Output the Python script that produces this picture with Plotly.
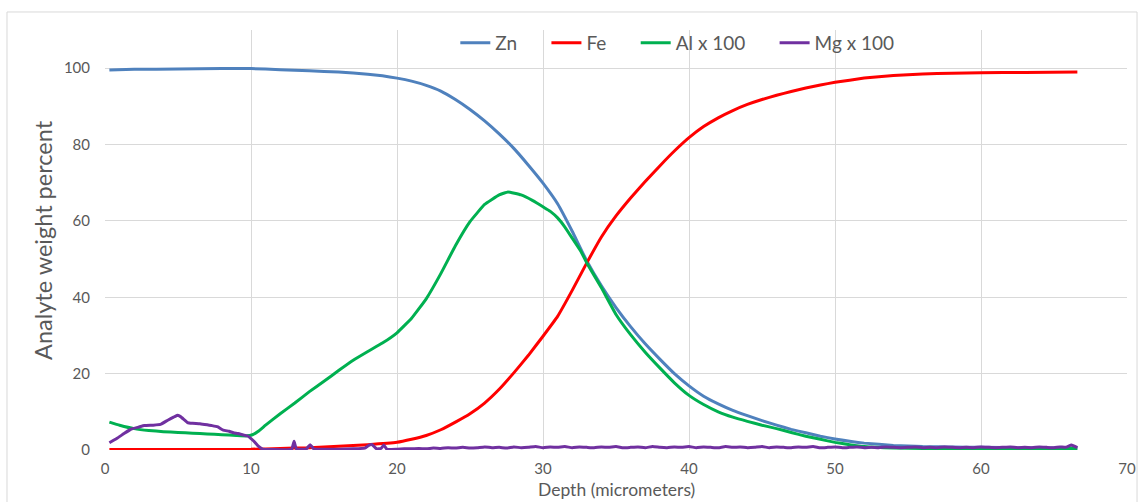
import plotly.graph_objects as go

# ---- data ----
zn_x = [0.3, 2, 5, 8, 10, 12, 14, 16, 18, 19, 20, 21, 22, 23, 24, 25, 26, 27, 28, 29, 30,
        31, 32, 33, 34, 35, 36, 37, 38, 39, 40, 41, 42, 43, 44, 45, 46, 47, 48, 49, 50,
        52, 54, 56, 58, 60, 63, 66.6]
zn_y = [99.5, 99.7, 99.8, 99.9, 99.9, 99.6, 99.3, 99.0, 98.4, 98.0, 97.4, 96.6, 95.5, 94.0, 91.8,
        89.2, 86.2, 82.8, 79.0, 74.6, 69.9, 64.5, 57.3, 49.5, 43.0, 37.3, 32.3, 27.8, 23.8, 20.0,
        16.8, 14.1, 12.1, 10.4, 9.0, 7.7, 6.5, 5.4, 4.5, 3.6, 2.9, 1.8, 1.2, 0.9, 0.8, 0.7, 0.6, 0.5]

fe_x = [0.3, 10, 12, 14, 16, 18, 20, 21, 22, 23, 24, 25, 26, 27, 28, 29, 30, 31, 32, 33, 34,
        35, 36, 37, 38, 39, 40, 41, 42, 43, 44, 45, 46, 47, 48, 49, 50, 52, 54, 56, 58, 60,
        63, 66.6]
fe_y = [0.1, 0.2, 0.4, 0.6, 1.0, 1.4, 2.0, 2.8, 3.8, 5.3, 7.3, 9.5, 12.3, 15.9, 20.2, 24.8, 29.8,
        35.0, 41.8, 49.0, 55.8, 61.3, 66.0, 70.3, 74.4, 78.3, 81.8, 84.7, 87.0, 88.9, 90.5, 91.8,
        92.9, 93.9, 94.8, 95.6, 96.3, 97.4, 98.1, 98.5, 98.7, 98.8, 98.9, 99.0]

al_x = [0.3, 1, 2, 3, 4, 5, 6, 7, 8, 9, 9.7, 10.1, 10.5, 11, 12, 13, 14, 15, 16, 17, 18, 19, 20,
        21, 22, 23, 24, 25, 26, 27, 27.6, 28.5, 29.3, 30, 30.5, 31, 31.5, 32, 32.6, 33, 34, 35, 36,
        37, 38, 39, 40, 41, 42, 43, 44, 45, 46, 47, 48, 49, 50, 51, 52, 54, 56, 60, 63, 66.6]
al_y = [7.3, 6.5, 5.6, 5.1, 4.8, 4.6, 4.4, 4.2, 4.0, 3.8, 3.7, 4.0, 4.9, 6.5, 9.5, 12.3, 15.3,
        18.0, 20.8, 23.5, 25.8, 28.0, 30.7, 34.5, 39.6, 46.2, 53.5, 59.8, 64.3, 66.8, 67.6, 66.8,
        65.3, 63.7, 62.5, 60.8, 58.4, 55.5, 52.0, 49.0, 42.5, 35.5, 30.2, 25.6, 21.5, 17.6, 14.3,
        11.9, 10.0, 8.6, 7.5, 6.5, 5.6, 4.6, 3.6, 2.8, 2.0, 1.4, 0.9, 0.5, 0.4, 0.4, 0.4, 0.4]

mg_x = [0.3, 0.8, 1.3, 1.8, 2.3, 2.7, 3.3, 3.8, 4.3, 4.7, 4.95, 5.15, 5.4, 5.65, 6.0, 6.5, 7.0,
        7.3, 7.7, 8.1, 8.5, 8.8, 9.1, 9.5, 9.8, 10.0, 10.2, 10.5, 10.8, 11.5, 12.5, 12.8, 12.95,
        13.1, 13.3, 13.8, 14.05, 14.3, 15, 16, 17, 17.8, 18.1, 18.3, 18.6, 18.9, 19.1, 19.3, 20,
        20.5, 21, 21.5, 22, 22.5, 23, 23.5, 24, 24.5, 25, 25.5, 26, 26.5, 27, 27.5, 28, 28.5,
        29, 29.5, 30, 30.5, 31, 31.5, 32, 32.5, 33, 33.5, 34, 34.5, 35, 35.5, 36, 36.5, 37,
        37.5, 38, 38.5, 39, 39.5, 40, 40.5, 41, 41.5, 42, 42.5, 43, 43.5, 44, 44.5, 45, 45.5,
        46, 46.5, 47, 47.5, 48, 48.5, 49, 49.5, 50, 50.5, 51, 51.5, 52, 52.5, 53, 53.5, 54,
        54.5, 55, 55.5, 56, 56.5, 57, 57.5, 58, 58.5, 59, 59.5, 60, 60.5, 61, 61.5, 62, 62.5,
        63, 63.5, 64, 64.5, 65, 65.4, 65.8, 66.2, 66.6]
mg_y = [1.9, 3.0, 4.3, 5.5, 6.0, 6.4, 6.5, 6.7, 7.8, 8.6, 9.1, 8.8, 8.0, 7.2, 7.0, 6.9, 6.6,
        6.4, 6.1, 5.2, 4.9, 4.5, 4.3, 3.9, 3.6, 3.0, 2.3, 1.0, 0.2, 0.1, 0.1, 0.3, 2.3,
        0.3, 0.2, 0.3, 1.4, 0.3, 0.2, 0.2, 0.3, 0.5, 1.3, 1.4, 0.3, 0.4, 1.3, 0.2, 0.2,
        0.3, 0.3, 0.4, 0.3, 0.5, 0.4, 0.6, 0.5, 0.7, 0.5, 0.6, 0.8, 0.6, 0.7, 0.5, 0.8,
        0.6, 0.7, 0.9, 0.6, 0.8, 0.7, 0.9, 0.6, 0.8, 0.7, 0.6, 0.8, 0.7, 0.9, 0.6, 0.7,
        0.8, 0.6, 0.9, 0.7, 0.6, 0.8, 0.7, 0.9, 0.6, 0.8, 0.7, 0.6, 0.9, 0.7, 0.8, 0.6,
        0.7, 0.9, 0.6, 0.8, 0.7, 0.6, 0.8, 0.7, 0.9, 0.6, 0.7, 0.8, 0.6, 0.7, 0.8, 0.6,
        0.7, 0.6, 0.8, 0.7, 0.6, 0.7, 0.8, 0.6, 0.7, 0.6, 0.8, 0.7, 0.6, 0.7, 0.6, 0.8,
        0.7, 0.6, 0.7, 0.8, 0.6, 0.7, 0.6, 0.8, 0.7, 0.6, 0.8, 0.7, 1.3, 0.6, 0.8, 0.6]

PAD = "\u00a0" * 5
series = [
    ("Zn" + PAD, zn_x, zn_y, "#4F81BD"),
    ("Fe" + PAD, fe_x, fe_y, "#FF0000"),
    ("Al x 100" + PAD, al_x, al_y, "#00B050"),
    ("Mg x 100", mg_x, mg_y, "#7030A0"),
]

x_ticks = [0, 10, 20, 30, 40, 50, 60, 70]
y_ticks = [0, 20, 40, 60, 80, 100]
x_title = "Depth (micrometers)"
y_title = "Analyte weight percent"

FONT = "Lato, 'Open Sans', sans-serif"
GRAY = "#595959"
GRID = "#D9D9D9"

fig = go.Figure()
for name, xs, ys, col in series:
    fig.add_trace(go.Scatter(x=xs, y=ys, mode="lines", name=name,
                             line=dict(color=col, width=3, shape="spline", smoothing=0.3)))

fig.update_layout(
    width=1141, height=502,
    margin=dict(l=105, r=14, t=30, b=52),
    paper_bgcolor="white", plot_bgcolor="white",
    font=dict(family=FONT, color=GRAY, size=15),
    showlegend=True,
    legend=dict(orientation="h", x=0.56, xanchor="center", y=0.969, yanchor="middle",
                font=dict(size=19, color=GRAY), bgcolor="rgba(0,0,0,0)",
                itemwidth=30, tracegroupgap=0),
    xaxis=dict(range=[0, 70], tickvals=x_ticks, showgrid=True, gridcolor=GRID, gridwidth=1,
               zeroline=False, showline=False, ticks="", tickfont=dict(size=15, color=GRAY),
               ticklabelstandoff=8, automargin=False),
    yaxis=dict(range=[0, 110], tickvals=y_ticks, showgrid=True, gridcolor=GRID, gridwidth=1,
               zeroline=False, showline=False, ticks="", tickfont=dict(size=15, color=GRAY),
               ticklabelstandoff=14, automargin=False),
    annotations=[
        dict(text=x_title, xref="paper", yref="paper", x=0.5, y=-0.1226,
             xanchor="center", yanchor="bottom", showarrow=False, borderpad=0,
             font=dict(size=17.5, color=GRAY)),
        dict(text=y_title, xref="paper", yref="paper", x=-0.0607, y=0.5,
             xanchor="center", yanchor="middle", showarrow=False, textangle=-90,
             font=dict(size=23.5, color=GRAY)),
    ],
    shapes=[dict(type="rect", xref="paper", yref="paper",
                 x0=-0.0959, x1=1.0098, y0=-0.3, y1=1.0429,
                 line=dict(color=GRID, width=1), layer="below")],
)

fig.write_html("out.html", config={"displayModeBar": False},
               post_script="document.body.style.margin='0';document.body.style.overflow='hidden';")
